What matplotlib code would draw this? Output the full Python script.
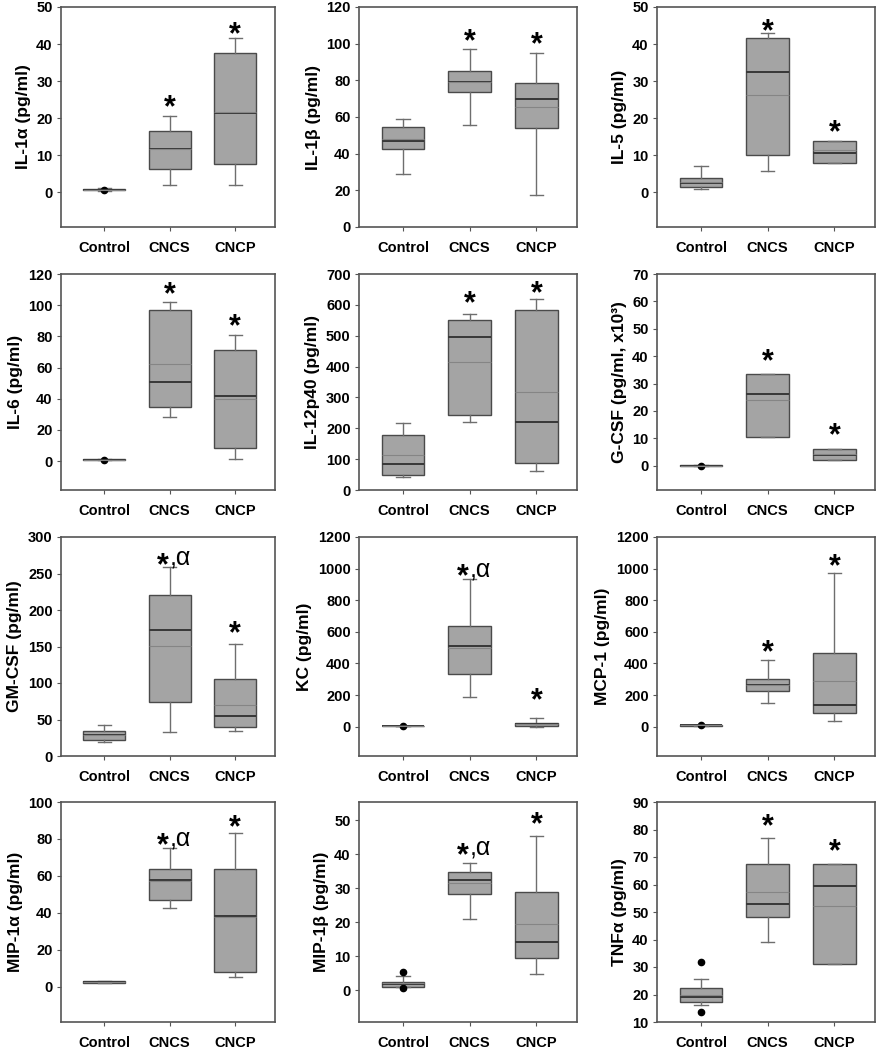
import matplotlib
matplotlib.use("Agg")
import matplotlib.pyplot as plt

plt.rcParams["font.family"] = ["Liberation Sans", "DejaVu Sans"]
plt.rcParams["font.weight"] = "bold"

GROUPS = ["Control", "CNCS", "CNCP"]

LABELS = ["IL-1α (pg/ml)", "IL-1β (pg/ml)", "IL-5 (pg/ml)",
          "IL-6 (pg/ml)", "IL-12p40 (pg/ml)", "G-CSF (pg/ml, x10³)",
          "GM-CSF (pg/ml)", "KC (pg/ml)", "MCP-1 (pg/ml)",
          "MIP-1α (pg/ml)", "MIP-1β (pg/ml)", "TNFα (pg/ml)"]

YLIMS = [(-9.3, 50), (0, 120), (-9.3, 50),
         (-18.5, 120), (0, 700), (-8.9, 70),
         (0, 300), (-185, 1200), (-185, 1200),
         (-19, 100), (-9.4, 55.3), (10, 90)]

YTICKS = [range(0, 51, 10), range(0, 121, 20), range(0, 51, 10),
          range(0, 121, 20), range(0, 701, 100), range(0, 71, 10),
          range(0, 301, 50), range(0, 1201, 200), range(0, 1201, 200),
          range(0, 101, 20), range(0, 51, 10), range(10, 91, 10)]

# box statistics per panel: [Control, CNCS, CNCP]
Q1 = [[0.6, 6.3, 7.8], [42.5, 73.5, 54.2], [1.35, 10.0, 7.9],
      [0.6, 34.8, 8.5], [48.6, 243, 88.6], [-0.1, 10.3, 2.1],
      [22.0, 74.5, 39.3], [3, 332, 6], [5, 225, 88],
      [2.0, 47.0, 7.9], [1.0, 28.1, 9.3], [17.1, 48.1, 31.0]]
MED = [[0.8, 11.6, 21.3], [47.0, 79.3, 70.0], [2.5, 32.6, 10.6],
       [1.0, 50.5, 42.0], [84, 497, 219], [0.0, 26.0, 3.9],
       [28.8, 172.8, 55.3], [5, 511, 15], [8, 263, 137],
       [2.5, 57.8, 38.6], [1.8, 32.4, 14.2], [19.1, 52.9, 59.6]]
Q3 = [[1.0, 16.6, 37.7], [54.7, 85.2, 78.8], [4.0, 41.6, 13.8],
      [1.4, 96.6, 71.4], [178, 551, 583], [0.1, 33.5, 6.0],
      [34.8, 220.8, 105.6], [7, 634, 21], [11, 303, 467],
      [3.0, 63.7, 63.7], [2.5, 34.6, 28.7], [22.2, 67.3, 67.3]]
WLO = [[0.5, 2.1, 1.9], [28.8, 55.6, 17.7], [0.9, 5.9, 7.9],
       [0.5, 28.4, 1.1], [41, 221, 62.7], [-0.1, 10.3, 2.1],
       [19.7, 32.5, 34.8], [3, 190, 0], [5, 152, 36],
       [2.0, 42.9, 5.4], [0.8, 20.9, 4.7], [16.1, 39.2, 31.0]]
WHI = [[1.1, 20.5, 41.7], [58.7, 97.2, 94.8], [7.2, 43.0, 13.8],
       [1.5, 102.3, 81.0], [216, 570, 618], [0.1, 33.5, 6.0],
       [42.5, 258.8, 153.6], [7, 936, 53], [11, 421, 973],
       [3.0, 75.2, 83.5], [4.2, 37.5, 45.3], [25.6, 77.0, 67.3]]
MEAN = [[0.8, 11.8, 21.8], [48.0, 79.0, 65.7], [2.8, 26.3, 11.5],
        [1.0, 62.5, 40.0], [113, 416, 319], [0.0, 24.0, 4.2],
        [29.0, 150.9, 70.0], [5, 500, 18], [8, 265, 288],
        [2.5, 57.0, 38.0], [2.0, 31.4, 19.3], [20.0, 57.2, 52.1]]
FLIERS = [[[0.8], [], []], [[], [], []], [[], [], []],
          [[1.0], [], []], [[], [], []], [[0.0], [], []],
          [[], [], []], [[5], [], []], [[8], [], []],
          [[], [], []], [[5.4, 0.5], [], []], [[31.8, 13.6], [], []]]

# significance marks (y of mark centre); alpha added on CNCS where flagged
STAR_Y = [[None, 24.7, 44.4], [None, 104.9, 103.4], [None, 45.2, 18.0],
          [None, 111.5, 90.6], [None, 626, 659], [None, 40.4, 13.6],
          [None, 271, 177.4], [None, 993, 207], [None, 514, 1057],
          [None, 80.3, 90.1], [None, 41.7, 50.8], [None, 83.7, 74.5]]
STAR_ALPHA = [False, False, False, False, False, False,
              True, True, False, True, True, False]

FIG_W, FIG_H = 876, 1050
COL_LEFT = [61, 359, 657]
COL_RIGHT = [275, 577, 875]
ROW_TOP = [7, 274, 537, 802]
ROW_BOTTOM = [227, 490, 756, 1022]
STAR_SIZE = 22
ALPHA_SIZE = 18


def draw_star(ax, x, y, with_alpha):
    dx = -5 if with_alpha else 0
    ax.annotate("*", (x, y), xytext=(dx, -0.51 * STAR_SIZE),
                textcoords="offset points", ha="center", va="baseline",
                fontsize=STAR_SIZE, fontweight="bold")
    if with_alpha:
        ax.annotate(",α", (x, y), xytext=(0, -0.27 * ALPHA_SIZE),
                    textcoords="offset points", ha="left", va="baseline",
                    fontsize=ALPHA_SIZE, fontweight="normal")


def add_panel(fig, idx):
    row, col = divmod(idx, 3)
    left = COL_LEFT[col] / FIG_W
    bottom = 1 - ROW_BOTTOM[row] / FIG_H
    width = (COL_RIGHT[col] - COL_LEFT[col]) / FIG_W
    height = (ROW_BOTTOM[row] - ROW_TOP[row]) / FIG_H
    ax = fig.add_axes([left, bottom, width, height])

    stats = []
    for g in range(3):
        stats.append({
            "med": MED[idx][g], "q1": Q1[idx][g], "q3": Q3[idx][g],
            "whislo": WLO[idx][g], "whishi": WHI[idx][g],
            "mean": MEAN[idx][g], "fliers": FLIERS[idx][g],
        })

    ax.bxp(stats, positions=[1, 2, 3], widths=0.64, capwidths=0.2,
           patch_artist=True, showmeans=True, meanline=True,
           boxprops=dict(facecolor="#a4a4a4", edgecolor="#4a4a4a", linewidth=1.0),
           medianprops=dict(color="#383838", linewidth=1.4),
           meanprops=dict(color="#858585", linewidth=0.8, linestyle="-"),
           whiskerprops=dict(color="#6e6e6e", linewidth=1.0),
           capprops=dict(color="#6e6e6e", linewidth=1.0),
           flierprops=dict(marker="o", markerfacecolor="black",
                           markeredgecolor="black", markersize=4.5))

    for g in range(3):
        if STAR_Y[idx][g] is not None:
            draw_star(ax, g + 1, STAR_Y[idx][g], STAR_ALPHA[idx] and g == 1)

    ax.set_xlim(0.34, 3.61)
    ax.set_ylim(*YLIMS[idx])
    ax.set_yticks(list(YTICKS[idx]))
    ax.set_xticks([1, 2, 3])
    ax.set_xticklabels(GROUPS)
    ax.tick_params(axis="both", labelsize=10.5, length=3, width=0.8,
                   color="#555555", pad=3)
    ax.tick_params(axis="x", pad=7)
    for lab in ax.get_xticklabels() + ax.get_yticklabels():
        lab.set_fontweight("bold")
    for spine in ax.spines.values():
        spine.set_color("#555555")
        spine.set_linewidth(1.2)
    ax.set_ylabel(LABELS[idx], fontsize=12.5, fontweight="bold", labelpad=4)
    return ax


def main():
    fig = plt.figure(figsize=(FIG_W / 100, FIG_H / 100), dpi=100)
    for idx in range(12):
        add_panel(fig, idx)
    fig.savefig("out.png", dpi=100, facecolor="white")


if __name__ == "__main__":
    main()
